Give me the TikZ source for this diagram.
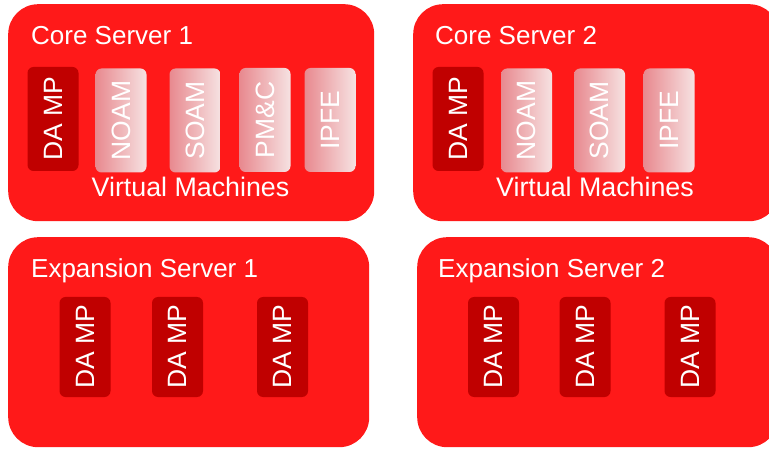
\documentclass[tikz,border=0pt]{standalone}
\usepackage{fontspec}
\setmainfont{Liberation Sans}
\definecolor{srvred}{HTML}{FF1919}
\definecolor{vmdark}{HTML}{C00000}
\definecolor{vmleft}{HTML}{E8898F}
\definecolor{vmright}{HTML}{F6E2E2}
\begin{document}
\begin{tikzpicture}[x=1pt,y=-1pt,
  server/.style={fill=srvred, draw=none, rounded corners=30pt, anchor=north west, inner sep=0pt},
  vmbase/.style={minimum width=51pt, inner sep=0pt, rounded corners=6pt, text=white,
     font=\fontsize{26.5}{30}\selectfont},
  dampcore/.style={vmbase, fill=vmdark, minimum height=104pt},
  dampexp/.style={vmbase, fill=vmdark, minimum height=100pt},
  vmlight/.style={vmbase, left color=vmleft, right color=vmright, minimum height=104pt},
  title/.style={anchor=base west, text=white, inner sep=0pt, font=\fontsize{26}{30}\selectfont},
  vmlabel/.style={anchor=base, text=white, inner sep=0pt, font=\fontsize{26.8}{30}\selectfont}
]
\useasboundingbox (0,0) rectangle (769,449);
\fill[white] (0,0) rectangle (769,449);

% servers
\node[server, minimum width=366pt, minimum height=217pt] (cs1) at (8,4) {};
\node[server, minimum width=366pt, minimum height=217pt] (cs2) at (413,4) {};
\node[server, minimum width=361pt, minimum height=210pt] (es1) at (8,237) {};
\node[server, minimum width=361pt, minimum height=210pt] (es2) at (417,237) {};

% titles
\node[title] (cs1t) at (31,45) {Core Server 1};
\node[title] (cs2t) at (435,45) {Core Server 2};
\node[title] (es1t) at (31,278) {Expansion Server 1};
\node[title] (es2t) at (438,278) {Expansion Server 2};

% core server 1 VMs
\node[dampcore] (c1damp) at (53,119) {\rotatebox{90}{DA MP}};
\node[vmlight] (c1noam) at (121,120.5) {\rotatebox{90}{NOAM}};
\node[vmlight] (c1soam) at (195,120.5) {\rotatebox{90}{SOAM}};
\node[vmlight] (c1pmc) at (265,120) {\rotatebox{90}{PM\&C}};
\node[vmlight] (c1ipfe) at (330,120) {\rotatebox{90}{IPFE}};
\node[vmlabel] (c1vm) at (190.5,197) {Virtual Machines};

% core server 2 VMs
\node[dampcore] (c2damp) at (458,119) {\rotatebox{90}{DA MP}};
\node[vmlight] (c2noam) at (526.5,120.5) {\rotatebox{90}{NOAM}};
\node[vmlight] (c2soam) at (599.5,120.5) {\rotatebox{90}{SOAM}};
\node[vmlight] (c2ipfe) at (669,120.5) {\rotatebox{90}{IPFE}};
\node[vmlabel] (c2vm) at (595,197) {Virtual Machines};

% expansion server 1
\node[dampexp] (e1a) at (85,347) {\rotatebox{90}{DA MP}};
\node[dampexp] (e1b) at (177.5,347) {\rotatebox{90}{DA MP}};
\node[dampexp] (e1c) at (282.5,347) {\rotatebox{90}{DA MP}};

% expansion server 2
\node[dampexp] (e2a) at (493.5,347) {\rotatebox{90}{DA MP}};
\node[dampexp] (e2b) at (585,347) {\rotatebox{90}{DA MP}};
\node[dampexp] (e2c) at (690,347) {\rotatebox{90}{DA MP}};
\end{tikzpicture}
\end{document}
